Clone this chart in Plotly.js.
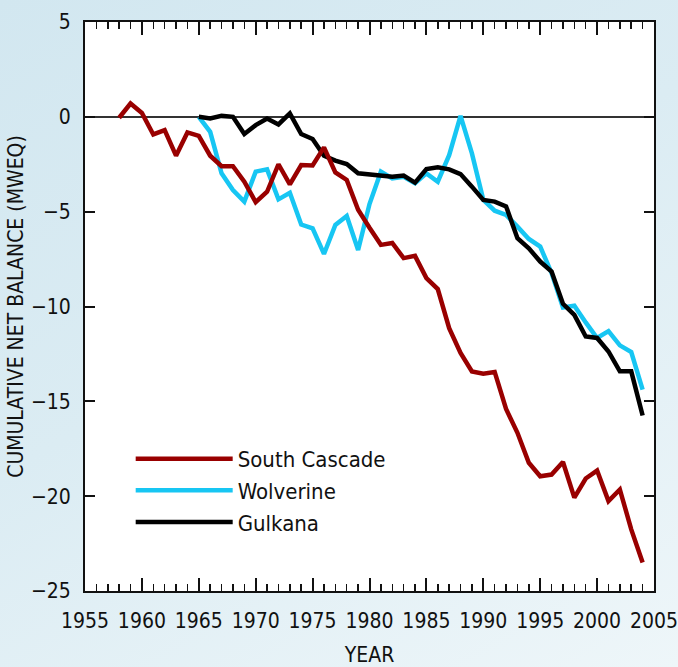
<!DOCTYPE html>
<html>
<head>
<meta charset="utf-8">
<script src="https://cdn.plot.ly/plotly-3.0.1.min.js"></script>
<style>
  html, body { margin: 0; padding: 0; width: 678px; height: 667px; overflow: hidden;
    background: linear-gradient(150deg, #d2e7f0 0%, #dbecf3 45%, #eef6f9 100%); }
  #chart { width: 678px; height: 667px; }
</style>
</head>
<body>
<div id="chart"></div>
<script>
const years = [1958,1959,1960,1961,1962,1963,1964,1965,1966,1967,1968,1969,1970,1971,1972,1973,1974,1975,1976,1977,1978,1979,1980,1981,1982,1983,1984,1985,1986,1987,1988,1989,1990,1991,1992,1993,1994,1995,1996,1997,1998,1999,2000,2001,2002,2003,2004];
const southCascade = [-0.05,0.7,0.2,-0.93,-0.7,-2.05,-0.82,-1.0,-2.05,-2.6,-2.6,-3.42,-4.5,-3.95,-2.5,-3.56,-2.54,-2.56,-1.61,-2.93,-3.33,-4.9,-5.85,-6.75,-6.65,-7.45,-7.33,-8.5,-9.08,-11.14,-12.45,-13.42,-13.54,-13.45,-15.4,-16.66,-18.24,-18.95,-18.86,-18.2,-20.08,-19.07,-18.65,-20.26,-19.65,-21.75,-23.5];
const wolvYears = years.slice(7);
const wolverine = [0,-0.79,-2.98,-3.86,-4.47,-2.89,-2.77,-4.35,-4.0,-5.68,-5.88,-7.23,-5.7,-5.23,-7.02,-4.6,-2.89,-3.25,-3.16,-3.5,-2.98,-3.42,-2.02,0.05,-1.93,-4.38,-4.95,-5.17,-5.79,-6.44,-6.84,-8.24,-10.05,-9.96,-10.84,-11.66,-11.3,-12.05,-12.4,-14.38];
const gulkana = [0,-0.09,0.05,0,-0.91,-0.44,-0.09,-0.4,0.18,-0.91,-1.17,-2.05,-2.31,-2.49,-2.98,-3.05,-3.07,-3.16,-3.1,-3.47,-2.75,-2.66,-2.77,-3.02,-3.68,-4.38,-4.47,-4.72,-6.4,-6.93,-7.63,-8.16,-9.86,-10.44,-11.58,-11.66,-12.37,-13.42,-13.42,-15.75];
const names = ['South Cascade','Wolverine','Gulkana'];
const colors = ['#990000','#17c6f3','#000000'];
const yTickVals = [5,0,-5,-10,-15,-20,-25];
const xTickVals = [1955,1960,1965,1970,1975,1980,1985,1990,1995,2000,2005];

const FONT = '"Liberation Sans Narrow", "DejaVu Sans Condensed", "Liberation Sans", sans-serif';

const traces = [
  {x: wolvYears, y: wolverine, name: names[1], mode: 'lines', line: {color: colors[1], width: 4.5}, legendrank: 2},
  {x: wolvYears, y: gulkana, name: names[2], mode: 'lines', line: {color: colors[2], width: 4.5}, legendrank: 3},
  {x: years, y: southCascade, name: names[0], mode: 'lines', line: {color: colors[0], width: 4.5}, legendrank: 1}
];

const layout = {
  width: 678, height: 667,
  paper_bgcolor: 'rgba(0,0,0,0)',
  plot_bgcolor: '#ffffff',
  margin: {l: 85, r: 24, t: 22, b: 76, pad: 0},
  font: {family: FONT, color: '#111', size: 20},
  showlegend: true,
  legend: {x: 0.0803, y: 0.269, xanchor: 'left', yanchor: 'top', bgcolor: 'rgba(0,0,0,0)',
           font: {family: FONT, size: 22, color: '#111'}, itemwidth: 97, tracegroupgap: 0,
           traceorder: 'normal'},
  xaxis: {
    range: [1955, 2005], tickvals: xTickVals, ticks: 'inside', ticklen: 13, tickwidth: 2, tickcolor: '#111',
    showline: true, linecolor: '#111', linewidth: 2, mirror: 'ticks', showgrid: false, zeroline: false,
    tickfont: {family: FONT, size: 21, color: '#111'}, ticklabelstandoff: 10, ticklabeloverflow: 'allow',
    minor: {dtick: 1, ticks: 'inside', ticklen: 7, tickwidth: 1.5, tickcolor: '#111', showgrid: false},
    title: {text: 'YEAR', font: {family: FONT, size: 21, color: '#111'}, standoff: 16}
  },
  yaxis: {
    range: [-25, 5], tickvals: yTickVals, ticks: 'inside', ticklen: 10, tickwidth: 2, tickcolor: '#111',
    showline: true, linecolor: '#111', linewidth: 2, mirror: 'ticks', showgrid: false,
    zeroline: true, zerolinecolor: '#333', zerolinewidth: 2,
    tickfont: {family: FONT, size: 21, color: '#111'}, ticklabelstandoff: 8, ticklabeloverflow: 'allow',
    title: {text: 'CUMULATIVE NET BALANCE (MWEQ)', font: {family: FONT, size: 21, color: '#111'}, standoff: 2}
  }
};

Plotly.newPlot('chart', traces, layout, {displayModeBar: false, staticPlot: true});
</script>
</body>
</html>
